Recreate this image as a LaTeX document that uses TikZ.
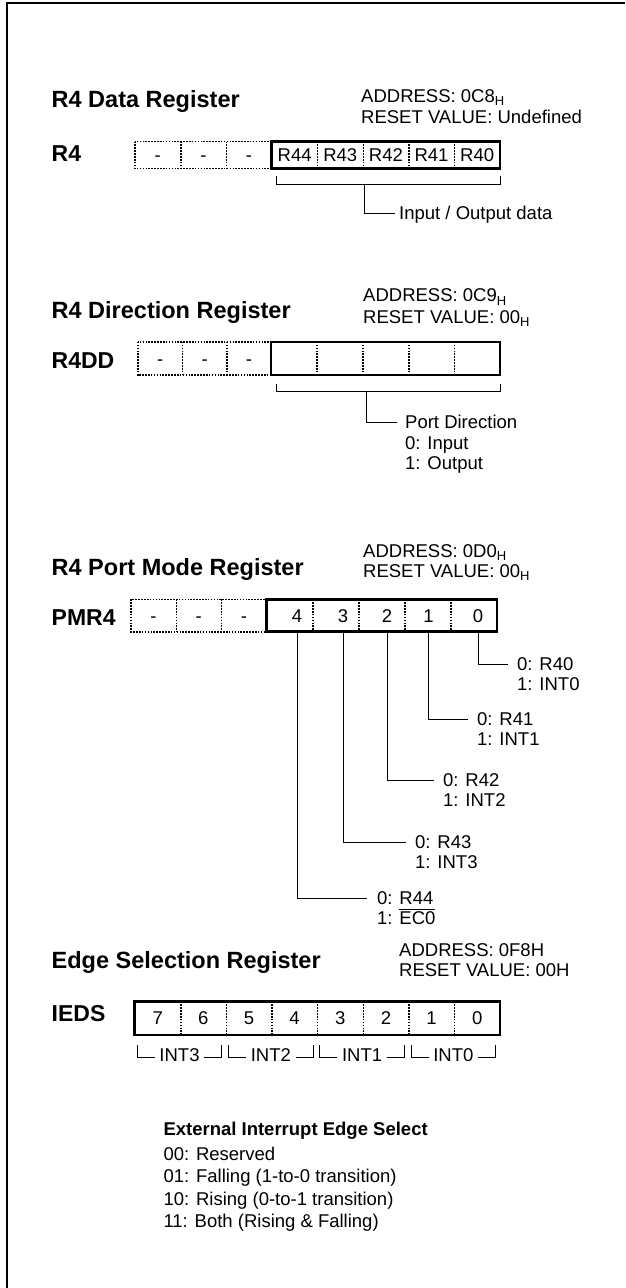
\documentclass[tikz,border=0pt]{standalone}
\usepackage{fontspec}
\setmainfont{Liberation Sans}
\newcommand{\subH}{\raisebox{-3.5pt}{\fontsize{13}{13}\selectfont H}}
\newcommand{\myovl}[1]{\setbox0\hbox{#1}\rlap{\rule[15.2pt]{\wd0}{1.1pt}}\box0}
\begin{document}
\begin{tikzpicture}[x=1pt,y=-1pt,
  ttl/.style={font=\fontsize{23.5}{26}\selectfont\bfseries, inner sep=0pt, anchor=base west},
  rlab/.style={font=\fontsize{23}{26}\selectfont\bfseries, inner sep=0pt, anchor=base west},
  txt/.style={font=\fontsize{18.5}{20}\selectfont, inner sep=0pt, anchor=base west},
  ctxt/.style={font=\fontsize{18.5}{20}\selectfont, inner sep=0pt, text height=13.2pt, text depth=0pt, anchor=west},
  cell/.style={font=\fontsize{18.5}{20}\selectfont, inner sep=0pt, text height=13.2pt, text depth=0pt},
  dotln/.style={line width=1.6pt, dash pattern=on 1.6pt off 1.3pt},
  boxln/.style={line width=2.5pt},
  conn/.style={line width=0.9pt},
  frameln/.style={line width=2.2pt}
]
\useasboundingbox (0,0) rectangle (625,1288);
\draw[frameln] (6.7,1288) -- (6.7,3.3) -- (625,3.3);

% ---------------- R4 Data Register
\node[ttl] (t1) at (51.5,107.7) {R4 Data Register};
\node[txt] (ad1) at (361,102.3) {ADDRESS: 0C8\subH};
\node[txt] (rs1) at (361,123.3) {RESET VALUE: Undefined};
\node[rlab] (l1) at (51.5,161) {R4};
\foreach \t [count=\i from 0] in {-,-,-,R44,R43,R42,R41,R40}
  \node[cell, minimum width=45.64pt, minimum height=26.5pt] (a\i) at ({134.9+(\i+0.5)*45.64},155) {\t};
\draw[dotln] (a0.north west) rectangle (a2.south east);
\foreach \i in {0,1,3,4,5,6} \draw[dotln] (a\i.north east) -- (a\i.south east);
\draw[boxln] (a3.north west) rectangle (a7.south east);
\coordinate (abL) at (276,176);
\coordinate (abR) at (500,176);
\draw[conn] (abL) -- ++(0,8) -| (abR);
\coordinate (abS) at (364.3,184);
\node[ctxt] (aio) at (399,213.3) {Input / Output data};
\draw[conn] (abS) |- ([xshift=-4pt]aio.west);

% ---------------- R4 Direction Register
\node[ttl] (t2) at (51.5,318.3) {R4 Direction Register};
\node[txt] (ad2) at (363,301.7) {ADDRESS: 0C9\subH};
\node[txt] (rs2) at (363,323.3) {RESET VALUE: 00\subH};
\node[rlab] (l2) at (51.5,368.3) {R4DD};
\foreach \i in {0,1,2}
  \node[cell, minimum width=44.43pt, minimum height=33pt] (b\i) at ({138+(\i+0.5)*44.43},358.5) {-};
\foreach \i in {3,...,7}
  \node[cell, minimum width=45.74pt, minimum height=33pt] (b\i) at ({271.3+(\i-3+0.5)*45.74},358.5) {};
\draw[dotln] (b0.north west) rectangle (b2.south east);
\foreach \i in {0,1,3,4,5,6} \draw[dotln] (b\i.north east) -- (b\i.south east);
\draw[boxln] (b3.north west) rectangle (b7.south east);
\coordinate (bbL) at (276,384);
\coordinate (bbR) at (500,384);
\draw[conn] (bbL) -- ++(0,7.7) -| (bbR);
\coordinate (bbS) at (366,391.7);
\node[ctxt] (bpd) at (405,422) {Port Direction};
\node[ctxt] (bp0) at (405,443) {0: Input};
\node[ctxt] (bp1) at (405,463) {1: Output};
\draw[conn] (bbS) |- ([xshift=-8pt]bpd.west);

% ---------------- R4 Port Mode Register
\node[ttl] (t3) at (51.5,575) {R4 Port Mode Register};
\node[txt] (ad3) at (363,557.3) {ADDRESS: 0D0\subH};
\node[txt] (rs3) at (363,577.3) {RESET VALUE: 00\subH};
\node[rlab] (l3) at (51.5,625.5) {PMR4};
\foreach \i in {0,1,2}
  \node[cell, minimum width=45.2pt, minimum height=32pt] (c\i) at ({130.9+(\i+0.5)*45.2},615.5) {-};
\foreach \i in {3,...,7}
  \node[cell, minimum width=46.06pt, minimum height=32pt] (c\i) at ({266.5+(\i-3+0.5)*46.06},615.5) {};
\draw[dotln] (c0.north west) rectangle (c2.south east);
\foreach \i in {0,1,3,4,5,6} \draw[dotln] (c\i.north east) -- (c\i.south east);
\draw[boxln] (c3.north west) rectangle (c7.south east);
\foreach \d/\x in {4/297,3/343,2/387,1/428.5,0/478}
  \node[cell] (d\d) at (\x,615.5) {\d};
\foreach \d/\y/\xt in {0/664/517, 1/719.3/477, 2/780/443, 3/842.3/415}{
  \node[ctxt] (pa\d) at (\xt,\y) {0: R4\d};
  \node[ctxt] (pb\d) at (\xt,{\y+20}) {1: INT\d};
  \draw[conn] (d\d |- c7.south) |- ([xshift=-9pt]pa\d.west);
}
\node[ctxt] (pa4) at (377,898.3) {0: R44};
\node[ctxt] (pb4) at (377,918.3) {1: \myovl{EC0}};
\draw[conn] (d4 |- c7.south) |- ([xshift=-10pt]pa4.west);

% ---------------- Edge Selection Register
\node[ttl] (t4) at (51.5,968.3) {Edge Selection Register};
\node[txt] (ad4) at (399,956.7) {ADDRESS: 0F8H};
\node[txt] (rs4) at (399,976.7) {RESET VALUE: 00H};
\node[rlab] (l4) at (51.5,1021) {IEDS};
\foreach \t [count=\i from 0] in {7,6,5,4,3,2,1,0}
  \node[cell, minimum width=45.64pt, minimum height=33.3pt] (e\i) at ({134.9+(\i+0.5)*45.64},1018.3) {\t};
\foreach \i in {0,...,6} \draw[dotln] (e\i.north east) -- (e\i.south east);
\draw[boxln] (e0.north west) rectangle (e7.south east);
\foreach \k/\n in {0/3,1/2,2/1,3/0}{
  \coordinate (gL\k) at ({134.9+2*\k*45.64+2.3},1045);
  \coordinate (gLb\k) at ({134.9+2*\k*45.64+2.3},1057);
  \coordinate (gR\k) at ({134.9+(2*\k+2)*45.64-4.5},1045);
  \coordinate (gRb\k) at ({134.9+(2*\k+2)*45.64-4.5},1057);
  \node[cell, inner xsep=4.5pt] (g\k) at ({134.9+(2*\k+1)*45.64-1},1055) {INT\n};
  \draw[conn] (gL\k) -- (gLb\k) -- (gLb\k -| g\k.west);
  \draw[conn] (g\k.east |- gRb\k) -- (gRb\k) -- (gR\k);
}

% ---------------- legend
\node[txt, font=\fontsize{18.5}{20}\selectfont\bfseries] (h0) at (163.3,1135) {External Interrupt Edge Select};
\node[txt] (h1) at (163.3,1160) {00: Reserved};
\node[txt] (h2) at (163.3,1182.5) {01: Falling (1-to-0 transition)};
\node[txt] (h3) at (163.3,1205) {10: Rising (0-to-1 transition)};
\node[txt] (h4) at (163.3,1227.5) {11: Both (Rising \& Falling)};
\end{tikzpicture}
\end{document}
